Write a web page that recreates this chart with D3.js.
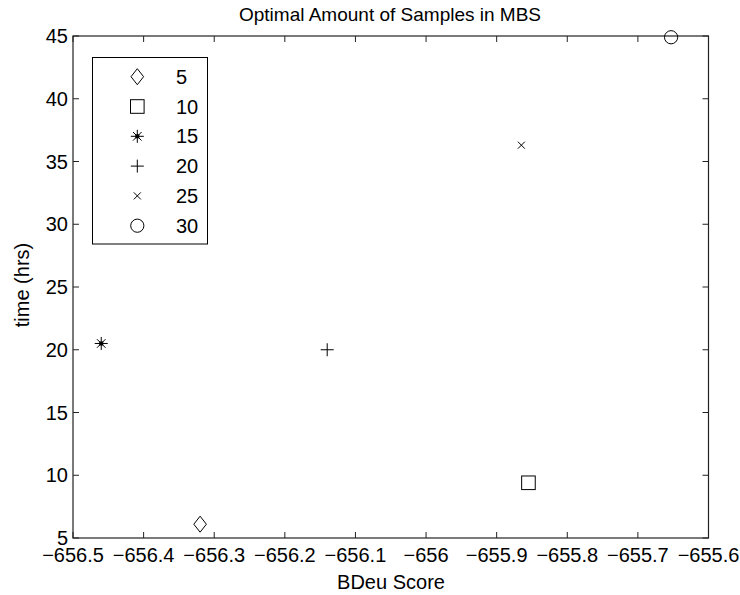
<!DOCTYPE html>
<html>
<head>
<meta charset="utf-8">
<script src="https://cdn.jsdelivr.net/npm/d3@7"></script>
<style>
html,body{margin:0;padding:0;background:#fff;}
text{font-family:"Liberation Sans",Arial,Helvetica,sans-serif;}
</style>
</head>
<body>
<svg id="chart" width="740" height="595"></svg>
<script>
const labels = ["5","10","15","20","25","30"];
const symbols = ["diamond","square","star","plus","cross","circle"];
const bdeu = [-656.32, -655.855, -656.46, -656.14, -655.865, -655.653];
const hours = [6.1, 9.4, 20.5, 20.0, 36.3, 44.9];
const xTicks = [-656.5,-656.4,-656.3,-656.2,-656.1,-656,-655.9,-655.8,-655.7,-655.6];
const yTicks = [5,10,15,20,25,30,35,40,45];
const title = "Optimal Amount of Samples in MBS";
const xLabel = "BDeu Score";
const yLabel = "time (hrs)";

const svg = d3.select("#chart");
const L = 73, R = 708.5, T = 36, B = 538;
const x = d3.scaleLinear().domain([-656.5, -655.6]).range([L, R]);
const y = d3.scaleLinear().domain([5, 45]).range([B, T]);
const fs = 20;
const axisColor = "#222";

const fmt = v => {
  let s = (Math.round(v*10)/10).toString();
  return s.replace("-", "\u2212");
};

// frame
svg.append("rect").attr("x", L).attr("y", T).attr("width", R-L).attr("height", B-T)
  .attr("fill", "none").attr("stroke", axisColor).attr("stroke-width", 1.2);

const tl = 6;
// x ticks
xTicks.forEach(v => {
  const px = x(v);
  svg.append("line").attr("x1", px).attr("x2", px).attr("y1", B).attr("y2", B-tl).attr("stroke", axisColor);
  svg.append("line").attr("x1", px).attr("x2", px).attr("y1", T).attr("y2", T+tl).attr("stroke", axisColor);
  svg.append("text").attr("x", px).attr("y", 562).attr("text-anchor", "middle")
    .attr("font-size", fs).attr("fill", "#000").text(fmt(v));
});
yTicks.forEach(v => {
  const py = y(v);
  svg.append("line").attr("x1", L).attr("x2", L+tl).attr("y1", py).attr("y2", py).attr("stroke", axisColor);
  svg.append("line").attr("x1", R).attr("x2", R-tl).attr("y1", py).attr("y2", py).attr("stroke", axisColor);
  svg.append("text").attr("x", 68).attr("y", py+7).attr("text-anchor", "end")
    .attr("font-size", fs).attr("fill", "#000").text(fmt(v));
});

svg.append("text").attr("x", 390).attr("y", 21).attr("text-anchor", "middle")
  .attr("font-size", fs-1).attr("fill", "#000").text(title);
svg.append("text").attr("x", 391).attr("y", 588.5).attr("text-anchor", "middle")
  .attr("font-size", fs).attr("fill", "#000").text(xLabel);
svg.append("text").attr("transform", "translate(28.5,285) rotate(-90)").attr("text-anchor", "middle")
  .attr("font-size", fs).attr("fill", "#000").text(yLabel);

function drawMarker(g, type) {
  const st = {fill: "none", stroke: "#000", "stroke-width": 1};
  const apply = sel => { Object.entries(st).forEach(([k,v]) => sel.attr(k, v)); return sel; };
  if (type === "diamond") {
    apply(g.append("path").attr("d", "M0,-8L6.3,0L0,8L-6.3,0Z"));
  } else if (type === "square") {
    apply(g.append("rect").attr("x", -6.8).attr("y", -6.8).attr("width", 13.6).attr("height", 13.6));
  } else if (type === "circle") {
    apply(g.append("circle").attr("r", 6.6));
  } else if (type === "plus") {
    apply(g.append("path").attr("d", "M-6.5,0H6.5M0,-6.5V6.5"));
  } else if (type === "cross") {
    apply(g.append("path").attr("d", "M-3.5,-3.5L3.5,3.5M-3.5,3.5L3.5,-3.5"));
  } else if (type === "star") {
    apply(g.append("path").attr("d", "M-6.5,0H6.5M0,-6.5V6.5M-4.3,-4.3L4.3,4.3M-4.3,4.3L4.3,-4.3"));
    g.append("rect").attr("x", -2).attr("y", -2).attr("width", 4).attr("height", 4).attr("fill", "#000");
  }
}

// points
labels.forEach((lab, i) => {
  const g = svg.append("g").attr("transform", `translate(${x(bdeu[i])},${y(hours[i])})`);
  drawMarker(g, symbols[i]);
});

// legend
svg.append("rect").attr("x", 92.5).attr("y", 57.5).attr("width", 115).attr("height", 186.5)
  .attr("fill", "#fff").attr("stroke", "#000").attr("stroke-width", 1);
labels.forEach((lab, i) => {
  const cy = 76.7 + i*29.8;
  const g = svg.append("g").attr("transform", `translate(137.3,${cy})`);
  drawMarker(g, symbols[i]);
  svg.append("text").attr("x", 176).attr("y", cy+7).attr("font-size", fs).attr("fill", "#000").text(lab);
});
</script>
</body>
</html>
